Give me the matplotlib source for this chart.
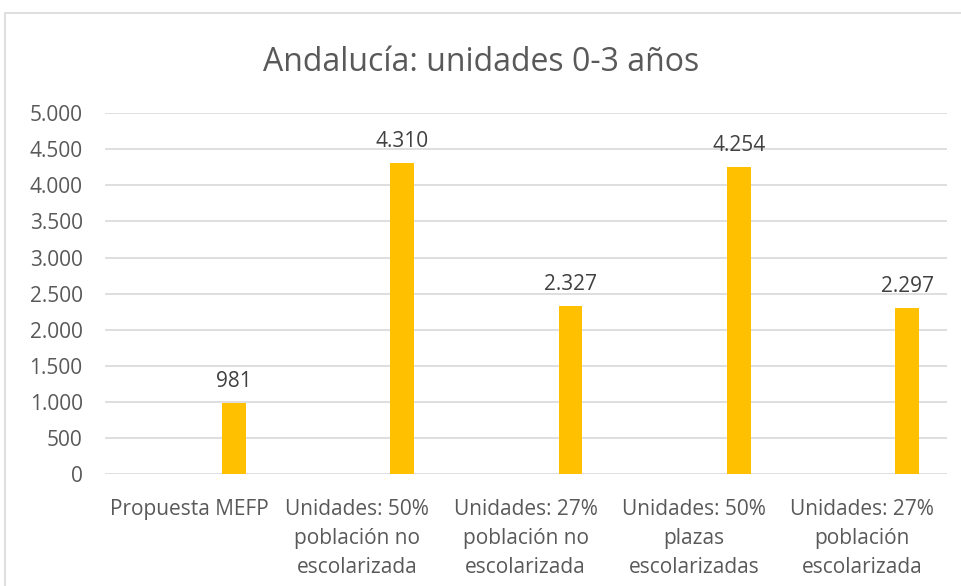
import matplotlib
matplotlib.use("Agg")
import matplotlib.pyplot as plt
from matplotlib.patches import Rectangle
from matplotlib.ticker import FuncFormatter
import numpy as np

# data
categorias = [
    "Propuesta MEFP",
    "Unidades: 50%\npoblación no\nescolarizada",
    "Unidades: 27%\npoblación no\nescolarizada",
    "Unidades: 50%\nplazas\nescolarizadas",
    "Unidades: 27%\npoblación\nescolarizada",
]
unidades = [981, 4310, 2327, 4254, 2297]
yticks = [0, 500, 1000, 1500, 2000, 2500, 3000, 3500, 4000, 4500, 5000]

gris = "#595959"
plt.rcParams['font.family'] = ['Open Sans', 'DejaVu Sans']

def miles(v, pos=None):
    # spanish thousands separator
    return f"{int(v):,}".replace(",", ".")

fig = plt.figure(figsize=(9.62, 5.86), dpi=100)
ax = fig.add_axes([0.109, 0.1906, 0.875, 0.6165])

# outer chart border (only top and left visible in the crop)
fig.patches.append(Rectangle((5 / 962, -0.1), 1.2, 1.1 - 13 / 586,
                             transform=fig.transFigure, fill=False,
                             edgecolor="#D9D9D9", linewidth=1.2))

x = np.arange(len(categorias))
pos = x + 0.266  # bars sit right of the category centre (empty first series)
barras = ax.bar(pos, unidades, width=0.14, color="#FFC000", zorder=3)

for p, v in zip(pos, unidades):
    ax.annotate(miles(v), (p, v), xytext=(0, 8), textcoords="offset points",
                ha="center", va="bottom", fontsize=15, color="#404040")

ax.set_xlim(-0.5, len(categorias) - 0.5)
ax.set_ylim(0, 5000)
ax.set_yticks(yticks)
ax.yaxis.set_major_formatter(FuncFormatter(miles))
ax.set_xticks(x)
ax.set_xticklabels(categorias, linespacing=1.5)
ax.tick_params(axis="both", length=0, labelsize=15, labelcolor=gris)
ax.tick_params(axis="x", pad=18)
ax.tick_params(axis="y", pad=16)
ax.grid(axis="y", color="#D9D9D9", linewidth=1.2, zorder=0)
for s in ax.spines.values():
    s.set_visible(False)

fig.text(0.5, 0.893, "Andalucía: unidades 0-3 años", ha="center", va="center",
         fontsize=23, color=gris)

fig.savefig("out.png", dpi=100)
